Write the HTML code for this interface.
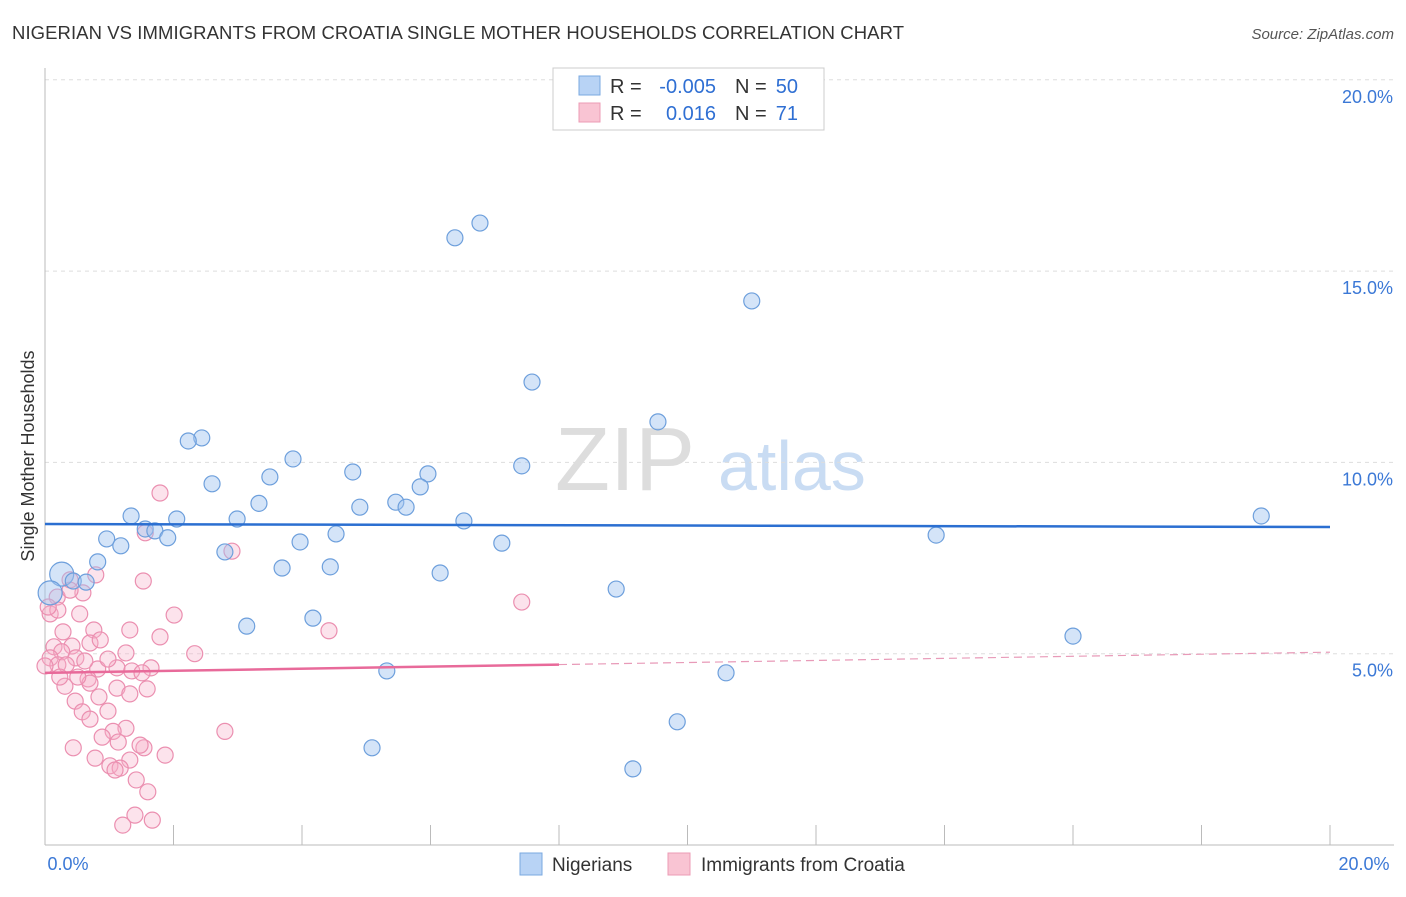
<!DOCTYPE html>
<html><head><meta charset="utf-8"><style>
body{margin:0;background:#fff;font-family:"Liberation Sans",sans-serif;}
svg text{font-family:"Liberation Sans",sans-serif;}
</style></head><body>
<svg id="chart" width="1406" height="892" viewBox="0 0 1406 892">
<text x="12" y="39" font-size="18.5" fill="#333" textLength="892">NIGERIAN VS IMMIGRANTS FROM CROATIA SINGLE MOTHER HOUSEHOLDS CORRELATION CHART</text>
<text x="1394" y="39" font-size="15" fill="#555" text-anchor="end" font-style="italic">Source: ZipAtlas.com</text>
<text transform="translate(34,456) rotate(-90)" font-size="18" fill="#333" text-anchor="middle">Single Mother Households</text>
<g><text x="555" y="490" font-size="90" fill="#ddd" font-family="Liberation Serif">ZIP</text><text x="718" y="490" font-size="70" fill="#c9dcf3">atlas</text></g>
<g id="grid"></g><g id="axes"></g><g id="marks"></g>
<g>
<rect x="553" y="68" width="271" height="62" fill="#fff" stroke="#ccc"/>
<rect x="579" y="76" width="21" height="19" fill="#b8d3f5" stroke="#7aa8e0"/>
<rect x="579" y="103" width="21" height="19" fill="#f9c4d3" stroke="#ec9bb5"/>
<text x="610" y="93" font-size="20" fill="#333">R =</text>
<text x="716" y="93" font-size="20" fill="#2f6fd3" text-anchor="end">-0.005</text>
<text x="735" y="93" font-size="20" fill="#333">N =</text>
<text x="798" y="93" font-size="20" fill="#2f6fd3" text-anchor="end">50</text>
<text x="610" y="120" font-size="20" fill="#333">R =</text>
<text x="716" y="120" font-size="20" fill="#2f6fd3" text-anchor="end">0.016</text>
<text x="735" y="120" font-size="20" fill="#333">N =</text>
<text x="798" y="120" font-size="20" fill="#2f6fd3" text-anchor="end">71</text>
</g>
<g>
<rect x="520" y="853" width="22" height="22" fill="#b8d3f5" stroke="#7aa8e0"/>
<text x="552" y="871" font-size="19" fill="#333">Nigerians</text>
<rect x="668" y="853" width="22" height="22" fill="#f9c4d3" stroke="#ec9bb5"/>
<text x="701" y="871" font-size="19" fill="#333">Immigrants from Croatia</text>
</g>
</svg>
<script>
const yTicks=[5,10,15,20];
const xTickLabels=["0.0%","20.0%"];
const blueX=[6.77,6.38,11.0,7.58,9.54,2.44,2.23,3.86,4.79,3.5,2.6,5.96,7.42,5.84,3.33,5.46,5.62,4.9,1.34,2.05,2.99,6.52,1.56,1.71,1.91,0.96,1.18,4.53,3.97,7.11,13.87,18.93,2.8,0.82,3.69,4.44,6.15,0.26,0.44,0.64,8.89,0.08,4.17,3.14,16.0,5.32,10.6,9.84,5.09,9.15];
const blueY=[16.256,15.87,14.22,12.1,11.06,10.64,10.56,10.09,9.75,9.62,9.44,9.7,9.91,9.36,8.93,8.96,8.83,8.83,8.6,8.52,8.52,8.47,8.26,8.21,8.03,8.0,7.82,8.13,7.92,7.89,8.1,8.6,7.66,7.4,7.24,7.27,7.11,7.08,6.9,6.87,6.69,6.59,5.93,5.72,5.46,4.55,4.5,3.22,2.54,1.99];
const blueR=[8,8,8,8,8,8,8,8,8,8,8,8,8,8,8,8,8,8,8,8,8,8,8,8,8,8,8,8,8,8,8,8,8,8,8,8,8,12,8,8,8,12,8,8,8,8,8,8,8,8];
const pinkX=[1.79,1.56,2.91,1.53,0.79,0.39,0.59,0.08,0.54,2.01,0.76,1.32,1.79,4.42,7.42,0.28,0.14,0.42,0.7,0.26,0.48,0.08,0.2,0.0,0.33,2.33,0.82,1.12,1.35,1.65,1.51,0.67,0.31,0.7,1.12,1.59,1.32,0.84,0.47,0.98,0.58,0.7,2.8,1.26,1.06,0.89,1.14,1.54,0.44,0.78,1.87,1.32,1.01,1.17,1.42,1.6,1.4,1.67,1.21,0.19,0.39,0.2,0.62,0.98,1.26,0.05,0.23,0.86,1.48,0.51,1.09];
const pinkY=[9.2,8.16,7.68,6.9,7.06,6.93,6.59,6.04,6.04,6.01,5.62,5.62,5.44,5.6,6.35,5.57,5.18,5.2,5.28,5.05,4.89,4.89,4.71,4.68,4.71,5.0,4.6,4.63,4.55,4.63,4.5,4.34,4.15,4.23,4.1,4.08,3.95,3.87,3.76,3.5,3.48,3.29,2.97,3.05,2.97,2.82,2.69,2.54,2.54,2.27,2.35,2.22,2.07,2.01,1.7,1.39,0.78,0.65,0.52,6.48,6.66,6.14,4.81,4.86,5.02,6.22,4.39,5.36,2.61,4.39,1.96];
const blueLine=[8.39,8.31];
const pinkLine=[4.5,5.04];
const X0=45,X1=1330,Y0=845,YS=38.26;
const xs=v=>X0+(X1-X0)*v/20, ys=v=>Y0-v*YS;
const NS="http://www.w3.org/2000/svg";
function mk(t,a,p){const e=document.createElementNS(NS,t);for(const k in a)e.setAttribute(k,a[k]);p.appendChild(e);return e;}
const grid=document.getElementById('grid'),axes=document.getElementById('axes'),marks=document.getElementById('marks');
yTicks.forEach(t=>{const l=mk('line',{x1:X0,x2:1394,y1:ys(t),y2:ys(t),stroke:'#ddd','stroke-dasharray':'4,4'},grid);


const tx=mk('text',{x:1393,y:ys(t)+23,'font-size':18,fill:'#3b78d6','text-anchor':'end'},axes);tx.textContent=t.toFixed(1)+'%';

});
const ax=mk('line',{x1:X0,x2:1394,y1:Y0,y2:Y0,stroke:'#bbb'},axes);


const ay=mk('line',{x1:X0,x2:X0,y1:68,y2:Y0,stroke:'#bbb'},axes);


for(let i=0;i<=10;i++){const t=mk('line',{x1:xs(i*2),x2:xs(i*2),y1:Y0,y2:Y0-20,stroke:'#bbb'},axes);

}
[[X0+23,xTickLabels[0]],[X1+34,xTickLabels[1]]].forEach(([x,s])=>{const t=mk('text',{x:x,y:870,'font-size':18,fill:'#3b78d6','text-anchor':'middle'},axes);t.textContent=s;

});
pinkX.forEach((v,i)=>{const c=mk('circle',{cx:xs(v),cy:ys(pinkY[i]),r:8,fill:'rgba(246,176,200,0.35)',stroke:'#eb8fb0','stroke-width':1.2},marks);

});
blueX.forEach((v,i)=>{const c=mk('circle',{cx:xs(v),cy:ys(blueY[i]),r:blueR[i],fill:'rgba(160,196,240,0.45)',stroke:'#6d9fdc','stroke-width':1.2},marks);

});
const bl=mk('line',{x1:xs(0),x2:xs(20),y1:ys(blueLine[0]),y2:ys(blueLine[1]),stroke:'#2b6fd1','stroke-width':2.5},marks);


const pm=pinkLine[0]+(pinkLine[1]-pinkLine[0])*0.4;
const pl=mk('line',{x1:xs(0),x2:xs(8),y1:ys(pinkLine[0]),y2:ys(pm),stroke:'#e86a9a','stroke-width':2.5},marks);


const pd=mk('line',{x1:xs(8),x2:xs(20),y1:ys(pm),y2:ys(pinkLine[1]),stroke:'#e89ab8','stroke-width':1.2,'stroke-dasharray':'8,5'},marks);


</script>
</body></html>
